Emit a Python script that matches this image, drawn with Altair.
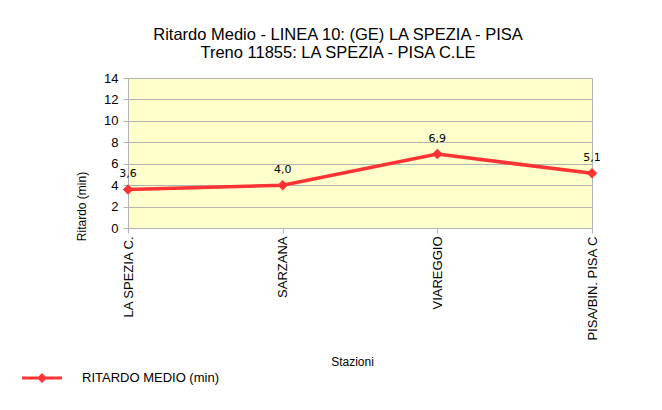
import altair as alt
import pandas as pd

stations = ["LA SPEZIA C.", "SARZANA", "VIAREGGIO", "PISA/BIN. PISA C"]
delays = [3.6, 4.0, 6.9, 5.1]
value_labels = ["3,6", "4,0", "6,9", "5,1"]
series_name = "RITARDO MEDIO (min)"
y_ticks = [0, 2, 4, 6, 8, 10, 12, 14]
title_lines = ["Ritardo Medio - LINEA 10: (GE) LA SPEZIA - PISA",
               "Treno 11855: LA SPEZIA - PISA C.LE"]

df = pd.DataFrame({"Stazione": stations, "Ritardo": delays,
                   "Label": value_labels, "Serie": [series_name] * len(stations)})

RED = "#ff3333"
GRAY = "#b3b3b3"
FONT = "Liberation Sans"

x = alt.X("Stazione:N", sort=stations,
          scale=alt.Scale(type="point", padding=0),
          axis=alt.Axis(title="Stazioni", labelAngle=-90, labelFontSize=13,
                        labelPadding=3, tickSize=5, grid=False,
                        titleX=224, titleY=133, titleAlign="center",
                        titleBaseline="middle", titleFontSize=12,
                        titleFontWeight="normal"))
y = alt.Y("Ritardo:Q", scale=alt.Scale(domain=[0, 14], nice=False),
          axis=alt.Axis(values=y_ticks, title="Ritardo (min)", labelFontSize=13,
                        labelPadding=5, tickSize=5, grid=True,
                        titleX=-47, titleY=128, titleAngle=270,
                        titleAlign="center", titleBaseline="middle",
                        titleFontSize=12, titleFontWeight="normal"))

legend_symbol = "M-1,-0.08H1V0.08H-1Z M0,-0.25L0.25,0L0,0.25L-0.25,0Z"
color_leg = alt.Color("Serie:N", scale=alt.Scale(range=[RED]),
                      legend=alt.Legend(title=None, orient="none",
                                        legendX=-106, legendY=280,
                                        symbolType=legend_symbol, symbolSize=1600,
                                        symbolStrokeWidth=0, symbolFillColor=RED,
                                        symbolOpacity=1,
                                        labelFontSize=13, labelFont=FONT,
                                        labelColor="black",
                                        labelOffset=20, padding=0))

line = alt.Chart(df).mark_line(strokeWidth=3.5, color=RED).encode(x=x, y=y)
points = alt.Chart(df).mark_point(shape="diamond", filled=True, size=110,
                                  opacity=1).encode(x=x, y=y, color=color_leg)
text = alt.Chart(df).mark_text(dy=-15, font="DejaVu Sans", fontSize=11,
                               color="black").encode(x=x, y=y, text="Label:N")

chart = alt.layer(line, points, text).properties(
    width=464, height=150,
    title=alt.TitleParams(title_lines, fontSize=16.5, font=FONT, fontWeight="normal",
                          anchor="middle", dx=-22, offset=11, lineHeight=18,
                          color="black"),
    autosize=alt.AutoSizeParams(type="none"),
    padding={"left": 120, "top": 70, "right": 62, "bottom": 170},
).configure(font=FONT, background="white").configure_view(
    fill="#ffffcc", stroke=GRAY, strokeWidth=1
).configure_axis(
    domainColor=GRAY, tickColor=GRAY, gridColor=GRAY, labelColor="black",
    titleColor="black", labelFont=FONT, titleFont=FONT
)

chart.save("out.html", embed_options={"renderer": "svg", "actions": False})
